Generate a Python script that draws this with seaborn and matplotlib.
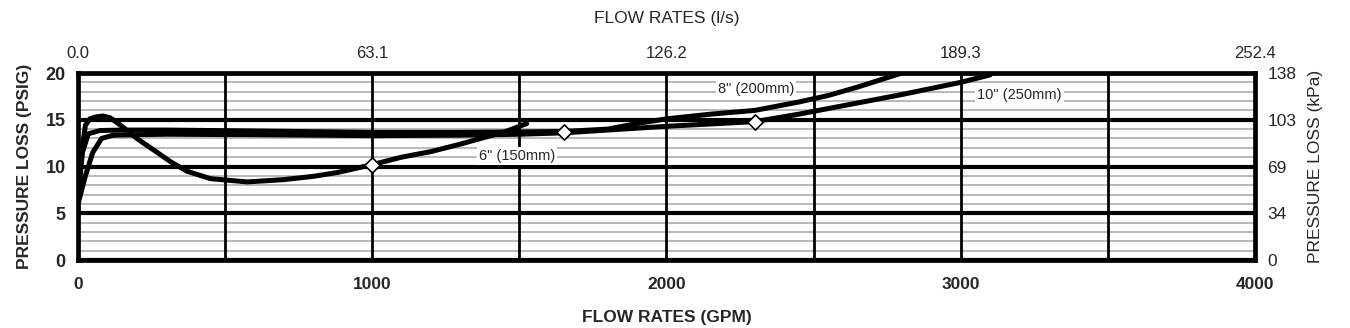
import pandas as pd
import seaborn as sns
from matplotlib import pyplot as plt

# 6" (150mm) curve
gpm_6 = [0, 10, 25, 40, 60, 85, 110, 145, 200, 260, 315, 370, 450, 575, 700, 800, 880, 1000, 1100, 1200, 1300, 1380, 1450, 1525]
psi_6 = [6.2, 11.0, 14.4, 15.1, 15.3, 15.4, 15.2, 14.4, 13.0, 11.7, 10.5, 9.5, 8.7, 8.35, 8.6, 8.95, 9.35, 10.2, 11.0, 11.6, 12.4, 13.1, 13.7, 14.6]

# 8" (200mm) curve
gpm_8 = [0, 15, 35, 75, 150, 300, 600, 1000, 1300, 1500, 1650, 1800, 1900, 2000, 2150, 2300, 2450, 2550, 2650, 2800]
psi_8 = [6.5, 11.5, 13.5, 13.85, 13.9, 13.9, 13.8, 13.65, 13.65, 13.7, 13.75, 14.0, 14.6, 15.1, 15.6, 16.0, 16.9, 17.6, 18.5, 20.0]

# 10" (250mm) curve
gpm_10 = [0, 25, 50, 80, 120, 200, 300, 600, 1000, 1300, 1500, 1650, 1800, 2000, 2150, 2300, 2450, 2600, 2800, 3000, 3100]
psi_10 = [6.0, 9.0, 11.5, 13.0, 13.35, 13.4, 13.45, 13.4, 13.3, 13.35, 13.45, 13.6, 13.9, 14.3, 14.55, 14.8, 15.6, 16.5, 17.7, 19.0, 19.8]

# diamond markers
mark_gpm = [1000, 1650, 2300]
mark_psi = [10.2, 13.7, 14.8]

# tick labels
gpm_ticks = [0, 1000, 2000, 3000, 4000]
psi_ticks = [0, 5, 10, 15, 20]
ls_labels = ['0.0', '63.1', '126.2', '189.3', '252.4']
kpa_labels = ['0', '34', '69', '103', '138']

sns.set_style('white')
plt.rcParams['font.family'] = ['Liberation Sans', 'DejaVu Sans']

fig = plt.figure(figsize=(13.5, 3.28), dpi=100)
ax = fig.add_axes([0.0578, 0.2073, 0.8718, 0.5701])

df = pd.concat([
    pd.DataFrame({'gpm': gpm_6, 'psi': psi_6, 'size': '6"'}),
    pd.DataFrame({'gpm': gpm_8, 'psi': psi_8, 'size': '8"'}),
    pd.DataFrame({'gpm': gpm_10, 'psi': psi_10, 'size': '10"'}),
])
sns.lineplot(data=df, x='gpm', y='psi', hue='size', units='size', estimator=None,
             sort=False, palette=['black'] * 3, linewidth=3.6, legend=False, ax=ax, zorder=3)
sns.scatterplot(x=mark_gpm, y=mark_psi, marker='D', s=60, color='white',
                edgecolor='black', linewidth=1.2, ax=ax, zorder=4)

ax.set_xlim(0, 4000)
ax.set_ylim(0, 20)
ax.set_xticks(gpm_ticks)
ax.set_xticks(range(500, 4000, 1000), minor=True)
ax.set_yticks(psi_ticks)
ax.set_yticks(range(0, 21), minor=True)
ax.set_xticklabels([str(t) for t in gpm_ticks], fontweight='bold', fontsize=12.5)
ax.set_yticklabels([str(t) for t in psi_ticks], fontweight='bold', fontsize=13)
ax.tick_params(which='both', length=0)
ax.tick_params(axis='x', pad=12)
ax.tick_params(axis='y', pad=9)
ax.set_axisbelow(True)
ax.grid(which='minor', axis='y', color='#b4b4b4', linewidth=1.3)
ax.grid(which='major', axis='y', color='black', linewidth=3.0)
ax.grid(which='both', axis='x', color='black', linewidth=2.0)
# verticals over the grey horizontal lines
ax.yaxis.set_zorder(0.4)
ax.xaxis.set_zorder(0.6)
for s in ax.spines.values():
    s.set_color('black')
    s.set_linewidth(3.4)
ax.set_xlabel('FLOW RATES (GPM)', fontweight='bold', fontsize=12.5, labelpad=13)
ax.set_ylabel('PRESSURE LOSS (PSIG)', fontweight='bold', fontsize=12.5, labelpad=10)

box = dict(facecolor='white', edgecolor='none', pad=1.5)
ax.text(1493, 11.1, '6" (150mm)', fontsize=10.5, ha='center', va='center', bbox=box, zorder=5)
ax.text(2305, 18.3, '8" (200mm)', fontsize=10.5, ha='center', va='center', bbox=box, zorder=5)
ax.text(3200, 17.6, '10" (250mm)', fontsize=10.5, ha='center', va='center', bbox=box, zorder=5)

# right axis in kPa
axr = ax.twinx()
axr.set_ylim(0, 20)
axr.set_yticks(psi_ticks)
axr.set_yticklabels(kpa_labels, fontsize=12.5)
axr.tick_params(length=0, pad=9)
axr.set_ylabel('PRESSURE LOSS (kPa)', fontsize=12.5, labelpad=8)
axr.grid(False)

# top axis in l/s
axt = ax.twiny()
axt.set_xlim(0, 4000)
axt.set_xticks(gpm_ticks)
axt.set_xticklabels(ls_labels, fontsize=12)
axt.tick_params(length=0, pad=9)
axt.set_xlabel('FLOW RATES (l/s)', fontsize=12.5, labelpad=16)
axt.grid(False)
for a in (axr, axt):
    for s in a.spines.values():
        s.set_visible(False)

fig.savefig('out.png', dpi=100)
